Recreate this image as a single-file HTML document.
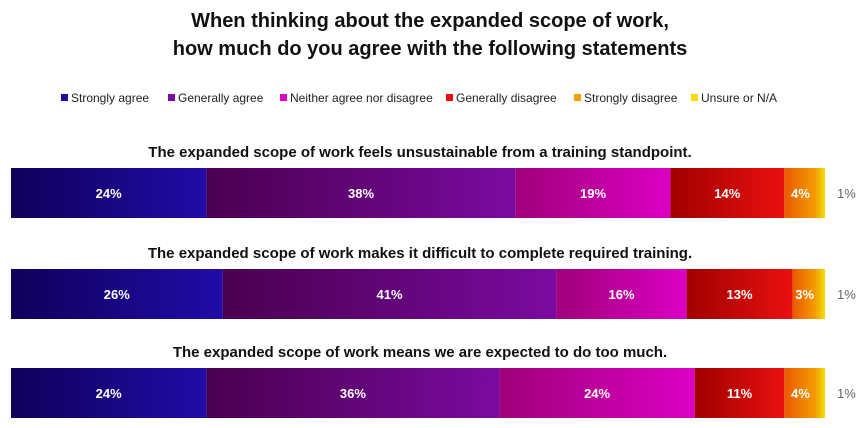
<!DOCTYPE html>
<html><head><meta charset="utf-8"><style>
body{margin:0;background:#fff;font-family:"Liberation Sans",sans-serif;}
svg{display:block}
</style></head><body>
<svg width="860" height="428">
<defs id="defs"></defs>
<text x="430" y="27" text-anchor="middle" font-size="20" font-weight="bold" fill="#111">When thinking about the expanded scope of work,</text>
<text x="430" y="55" text-anchor="middle" font-size="20" font-weight="bold" fill="#111">how much do you agree with the following statements</text>
<g id="legend"></g>
<g id="rows"></g>
</svg>
<script>
const categories=["Strongly agree","Generally agree","Neither agree nor disagree","Generally disagree","Strongly disagree","Unsure or N/A"];
const statements=["The expanded scope of work feels unsustainable from a training standpoint.","The expanded scope of work makes it difficult to complete required training.","The expanded scope of work means we are expected to do too much."];
const row1=[24,38,19,14,4,1];
const row2=[26,41,16,13,3,1];
const row3=[24,36,24,11,4,1];
const series=[row1,row2,row3];
const colorsDark=["#10005a","#4a0050","#a0007a","#a00000","#e85a00","#f0a800"];
const colorsLight=["#200ca8","#7a0aa0","#dc00c4","#ea1010","#f5a000","#f8dc00"];
const ns="http://www.w3.org/2000/svg";
const svg=document.querySelector("svg"),defs=document.getElementById("defs");
const legend=document.getElementById("legend"),rows=document.getElementById("rows");
function mk(t,a,p){const e=document.createElementNS(ns,t);for(const k in a)e.setAttribute(k,a[k]);p.appendChild(e);return e;}
categories.forEach((c,i)=>{const g=mk("linearGradient",{id:"g"+i,x1:0,x2:1,y1:0,y2:0},defs);
mk("stop",{offset:0,"stop-color":colorsDark[i]},g);mk("stop",{offset:1,"stop-color":colorsLight[i]},g);});
const legX=[61,168,280,446,574,691];
categories.forEach((c,i)=>{
const r=mk("rect",{x:legX[i],y:94,width:7,height:7,fill:colorsLight[i]},legend);


const t=mk("text",{x:legX[i]+10,y:102,"font-size":12,fill:"#222"},legend);t.textContent=c;


});
const x0=11,x1=825;
const xs=v=>x0+(x1-x0)*v/100;
const rowY=[168,269,368],barH=50;
series.forEach((vals,ri)=>{
const y=rowY[ri];
const tt=mk("text",{x:420,y:y-11,"text-anchor":"middle","font-size":15,"font-weight":"bold",fill:"#111"},rows);tt.textContent=statements[ri];


let cum=0;
vals.forEach((v,i)=>{
const xa=xs(cum),xb=xs(cum+v);cum+=v;
const r=mk("rect",{x:xa,y:y,width:xb-xa,height:barH,fill:"url(#g"+i+")"},rows);


const t=mk("text",{x:i==5?xb+12:(xa+xb)/2,y:y+barH/2+5,"text-anchor":i==5?"start":"middle","font-size":13,"font-weight":i==5?"normal":"bold",fill:i==5?"#666":"#fff"},rows);
t.textContent=v+"%";


});
});
</script>
</body></html>
